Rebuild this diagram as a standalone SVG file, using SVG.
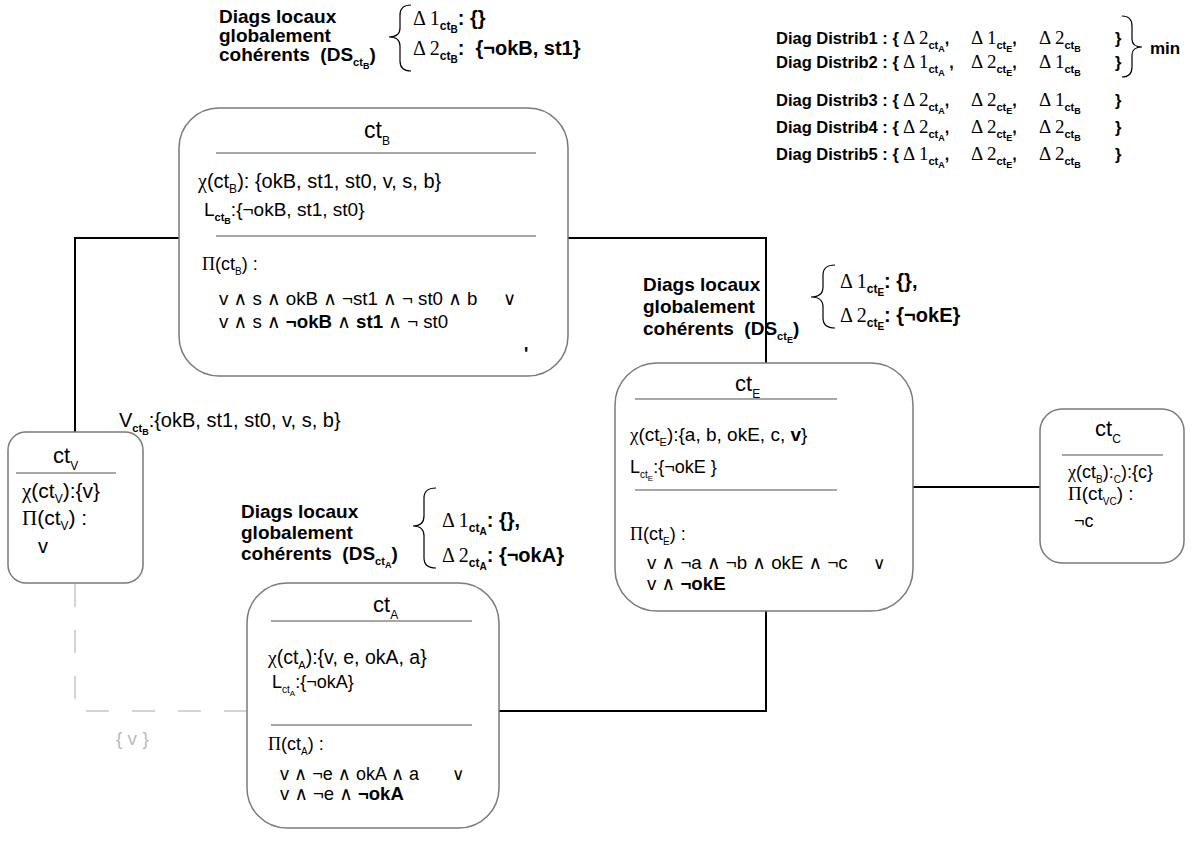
<svg xmlns="http://www.w3.org/2000/svg" width="1194" height="843" viewBox="0 0 1194 843">
<style>
.t{font-family:"Liberation Sans","DejaVu Sans",Arial,sans-serif;fill:#000}
.s{font-family:"Liberation Serif","DejaVu Serif","Times New Roman",serif;fill:#000}
.b{font-weight:bold}
.box{fill:#fff;stroke:#7a7a7a;stroke-width:1.5}
.rule{stroke:#8a8a8a;stroke-width:1.5}
.conn{stroke:#000;stroke-width:2;fill:none}
.dash{stroke:#d4d4d4;stroke-width:2;stroke-dasharray:23 23;fill:none}
.brace{stroke:#000;stroke-width:1.2;fill:none}
</style>
<rect width="1194" height="843" fill="#fff"/>
<g id="connectors">
<path class="conn" d="M180,238 H75 V432"/>
<path class="conn" d="M568,238 H766 V364"/>
<path class="conn" d="M766,611 V711 H498"/>
<path class="conn" d="M913,487 H1040"/>
<path class="dash" d="M75,584 V711 H247"/>
<text class="t" x="116" y="745" font-size="19" style="fill:#bbb" xml:space="preserve">{ v }</text>
</g>
<g id="ctB">
<rect class="box" x="179" y="108" width="389" height="268" rx="40"/>
<text class="t" x="364" y="138" font-size="23">ct<tspan font-size="12" dy="7">B</tspan></text>
<line class="rule" x1="216" y1="153" x2="536" y2="153"/>
<text class="t" x="198" y="188" font-size="20"><tspan class="s">χ</tspan>(ct<tspan font-size="12" dy="5">B</tspan><tspan dy="-5">): {okB, st1, st0, v, s, b}</tspan></text>
<text class="t" x="204" y="216" font-size="19">L<tspan font-size="11" font-weight="bold" dy="5">ct</tspan><tspan font-size="9" font-weight="bold" dy="3">B</tspan><tspan dy="-8">:{¬okB, st1, st0}</tspan></text>
<line class="rule" x1="216" y1="236" x2="536" y2="236"/>
<text class="t" x="202" y="270" font-size="18"><tspan class="s">Π</tspan>(ct<tspan font-size="10" dy="5">B</tspan><tspan dy="-5">) :</tspan></text>
<text class="t" x="219" y="305" font-size="18.7">v ∧ s ∧ okB ∧ ¬st1 ∧ ¬ st0 ∧ b</text>
<text class="t" x="503" y="305" font-size="18">∨</text>
<text class="t" x="219" y="328" font-size="18.7">v ∧ s ∧ <tspan class="b">¬okB</tspan> ∧ <tspan class="b">st1</tspan> ∧ ¬ st0</text>
<text class="t b" x="524" y="360" font-size="18">'</text>
</g>
<g id="ctV">
<rect class="box" x="8" y="432" width="135" height="151" rx="18"/>
<text class="t" x="53" y="463" font-size="22">ct<tspan font-size="12" dy="7">V</tspan></text>
<line class="rule" x1="16" y1="473" x2="116" y2="473"/>
<text class="t" x="22" y="498" font-size="21"><tspan class="s">χ</tspan>(ct<tspan font-size="12" dy="5">V</tspan><tspan dy="-5">):{v}</tspan></text>
<text class="t" x="22" y="525" font-size="21"><tspan class="s">Π</tspan>(ct<tspan font-size="12" dy="5">V</tspan><tspan dy="-5">) :</tspan></text>
<text class="t" x="38" y="553" font-size="20">v</text>
</g>
<g id="labelV">
<text class="t" x="119" y="427" font-size="20">V<tspan font-size="11" font-weight="bold" dy="5">ct</tspan><tspan font-size="9" font-weight="bold" dy="3">B</tspan><tspan dy="-8">:{okB, st1, st0, v, s, b}</tspan></text>
</g>
<g id="ctA">
<rect class="box" x="247" y="583" width="252" height="245" rx="40"/>
<text class="t" x="373" y="612" font-size="22">ct<tspan font-size="12" dy="7">A</tspan></text>
<line class="rule" x1="271" y1="621" x2="472" y2="621"/>
<text class="t" x="268" y="664" font-size="19.5"><tspan class="s">χ</tspan>(ct<tspan font-size="11" dy="5">A</tspan><tspan dy="-5">):{v, e, okA, a}</tspan></text>
<text class="t" x="272" y="688" font-size="18">L<tspan font-size="10" dy="5">ct</tspan><tspan font-size="8" dy="3">A</tspan><tspan dy="-8">:{¬okA}</tspan></text>
<line class="rule" x1="271" y1="725" x2="472" y2="725"/>
<text class="t" x="268" y="750" font-size="18"><tspan class="s">Π</tspan>(ct<tspan font-size="10" dy="5">A</tspan><tspan dy="-5">) :</tspan></text>
<text class="t" x="280" y="780" font-size="18">v ∧ ¬e ∧ okA ∧ a</text>
<text class="t" x="452" y="780" font-size="17">∨</text>
<text class="t" x="280" y="800" font-size="18.5">v ∧ ¬e ∧ <tspan class="b">¬okA</tspan></text>
</g>
<g id="ctE">
<rect class="box" x="615" y="363" width="298" height="248" rx="42"/>
<text class="t" x="735" y="391" font-size="22">ct<tspan font-size="12" dy="7">E</tspan></text>
<line class="rule" x1="635" y1="399" x2="837" y2="399"/>
<text class="t" x="630" y="441" font-size="19"><tspan class="s">χ</tspan>(ct<tspan font-size="11" dy="5">E</tspan><tspan dy="-5">):{a, b, okE, c, </tspan><tspan class="b">v</tspan>}</text>
<text class="t" x="630" y="473" font-size="18">L<tspan font-size="10" dy="5">ct</tspan><tspan font-size="8" dy="3">E</tspan><tspan dy="-8">:{¬okE }</tspan></text>
<line class="rule" x1="635" y1="490" x2="837" y2="490"/>
<text class="t" x="630" y="540" font-size="18"><tspan class="s">Π</tspan>(ct<tspan font-size="10" dy="5">E</tspan><tspan dy="-5">) :</tspan></text>
<text class="t" x="647" y="569" font-size="18.7">v ∧ ¬a ∧ ¬b ∧ okE ∧ ¬c</text>
<text class="t" x="873" y="569" font-size="17">∨</text>
<text class="t" x="647" y="590" font-size="18.7">v ∧ <tspan class="b">¬okE</tspan></text>
</g>
<g id="ctC">
<rect class="box" x="1040" y="409" width="144" height="154" rx="22"/>
<text class="t" x="1095" y="436" font-size="22">ct<tspan font-size="12" dy="7">C</tspan></text>
<line class="rule" x1="1062" y1="455" x2="1163" y2="455"/>
<text class="t" x="1068" y="478" font-size="18"><tspan class="s">χ</tspan>(ct<tspan font-size="10" dy="5">B</tspan><tspan dy="-5">):</tspan><tspan font-size="10" dy="5">C</tspan><tspan dy="-5">):{c}</tspan></text>
<text class="t" x="1068" y="500" font-size="19"><tspan class="s">Π</tspan>(ct<tspan font-size="10" dy="5">VC</tspan><tspan dy="-5">) :</tspan></text>
<text class="t" x="1074" y="527" font-size="18">¬c</text>
</g>
<g id="dsB">
<text class="t b" x="219" y="23" font-size="19">Diags locaux</text>
<text class="t b" x="219" y="42" font-size="19">globalement</text>
<text class="t b" x="219" y="61" font-size="19" xml:space="preserve">cohérents  (DS<tspan font-size="11" dy="5">ct</tspan><tspan font-size="9" dy="3">B</tspan><tspan dy="-8">)</tspan></text>
<path class="brace" d="M411,5 Q400,5 400,15 V28 Q400,37 389,37 Q400,37 400,46 V61 Q400,71 411,71"/>
<text class="s" x="413" y="25" font-size="20">Δ 1<tspan class="t b" font-size="12" dy="5">ct</tspan><tspan class="t b" font-size="10" dy="3">B</tspan><tspan class="t b" dy="-8">: {}</tspan></text>
<text class="s" x="413" y="55" font-size="20" xml:space="preserve">Δ 2<tspan class="t b" font-size="12" dy="5">ct</tspan><tspan class="t b" font-size="10" dy="3">B</tspan><tspan class="t b" dy="-8">:  {¬okB, st1}</tspan></text>
</g>
<g id="dsE">
<text class="t b" x="643" y="291" font-size="19">Diags locaux</text>
<text class="t b" x="643" y="313" font-size="19">globalement</text>
<text class="t b" x="643" y="335" font-size="19" xml:space="preserve">cohérents  (DS<tspan font-size="11" dy="5">ct</tspan><tspan font-size="9" dy="3">E</tspan><tspan dy="-8">)</tspan></text>
<path class="brace" d="M835,265 Q823,265 823,275 V287 Q823,297 811,297 Q823,297 823,307 V318 Q823,328 835,328"/>
<text class="s" x="840" y="288" font-size="20">Δ 1<tspan class="t b" font-size="12" dy="5">ct</tspan><tspan class="t b" font-size="10" dy="3">E</tspan><tspan class="t b" dy="-8">: {},</tspan></text>
<text class="s" x="840" y="322" font-size="20">Δ 2<tspan class="t b" font-size="12" dy="5">ct</tspan><tspan class="t b" font-size="10" dy="3">E</tspan><tspan class="t b" dy="-8">: {¬okE}</tspan></text>
</g>
<g id="dsA">
<text class="t b" x="241" y="518" font-size="19">Diags locaux</text>
<text class="t b" x="241" y="539" font-size="19">globalement</text>
<text class="t b" x="241" y="560" font-size="19" xml:space="preserve">cohérents  (DS<tspan font-size="11" dy="5">ct</tspan><tspan font-size="9" dy="3">A</tspan><tspan dy="-8">)</tspan></text>
<path class="brace" d="M436,488 Q424,488 424,498 V516 Q424,526 413,526 Q424,526 424,536 V558 Q424,568 436,568"/>
<text class="s" x="442" y="527" font-size="20">Δ 1<tspan class="t b" font-size="12" dy="5">ct</tspan><tspan class="t b" font-size="10" dy="3">A</tspan><tspan class="t b" dy="-8">: {},</tspan></text>
<text class="s" x="442" y="562" font-size="20">Δ 2<tspan class="t b" font-size="12" dy="5">ct</tspan><tspan class="t b" font-size="10" dy="3">A</tspan><tspan class="t b" dy="-8">: {¬okA}</tspan></text>
</g>
<g id="distrib">
<text class="t b" x="776" y="44" font-size="16.5">Diag Distrib1 : {</text>
<text class="s" x="903" y="44" font-size="19">Δ 2<tspan class="t b" font-size="11" dy="5">ct</tspan><tspan class="t b" font-size="9" dy="3">A</tspan><tspan class="t b" font-size="16" dy="-8">,</tspan></text>
<text class="s" x="971" y="44" font-size="19">Δ 1<tspan class="t b" font-size="11" dy="5">ct</tspan><tspan class="t b" font-size="9" dy="3">E</tspan><tspan class="t b" font-size="16" dy="-8">,</tspan></text>
<text class="s" x="1039" y="44" font-size="19">Δ 2<tspan class="t b" font-size="11" dy="5">ct</tspan><tspan class="t b" font-size="9" dy="3">B</tspan></text>
<text class="t b" x="1115" y="44" font-size="16.5">}</text>
<text class="t b" x="776" y="68" font-size="16.5">Diag Distrib2 : {</text>
<text class="s" x="903" y="68" font-size="19">Δ 1<tspan class="t b" font-size="11" dy="5">ct</tspan><tspan class="t b" font-size="9" dy="3">A</tspan><tspan class="t b" font-size="16" dy="-8"> ,</tspan></text>
<text class="s" x="971" y="68" font-size="19">Δ 2<tspan class="t b" font-size="11" dy="5">ct</tspan><tspan class="t b" font-size="9" dy="3">E</tspan><tspan class="t b" font-size="16" dy="-8">,</tspan></text>
<text class="s" x="1039" y="68" font-size="19">Δ 1<tspan class="t b" font-size="11" dy="5">ct</tspan><tspan class="t b" font-size="9" dy="3">B</tspan></text>
<text class="t b" x="1115" y="68" font-size="16.5">}</text>
<path class="brace" d="M1122,16 Q1132,16 1132,26 V39 Q1132,47 1142,47 Q1132,47 1132,55 V67 Q1132,77 1122,77"/>
<text class="t b" x="1150" y="54" font-size="17">min</text>
<text class="t b" x="776" y="106" font-size="16.5">Diag Distrib3 : {</text>
<text class="s" x="903" y="106" font-size="19">Δ 2<tspan class="t b" font-size="11" dy="5">ct</tspan><tspan class="t b" font-size="9" dy="3">A</tspan><tspan class="t b" font-size="16" dy="-8">,</tspan></text>
<text class="s" x="971" y="106" font-size="19">Δ 2<tspan class="t b" font-size="11" dy="5">ct</tspan><tspan class="t b" font-size="9" dy="3">E</tspan><tspan class="t b" font-size="16" dy="-8">,</tspan></text>
<text class="s" x="1039" y="106" font-size="19">Δ 1<tspan class="t b" font-size="11" dy="5">ct</tspan><tspan class="t b" font-size="9" dy="3">B</tspan></text>
<text class="t b" x="1115" y="106" font-size="16.5">}</text>
<text class="t b" x="776" y="133" font-size="16.5">Diag Distrib4 : {</text>
<text class="s" x="903" y="133" font-size="19">Δ 2<tspan class="t b" font-size="11" dy="5">ct</tspan><tspan class="t b" font-size="9" dy="3">A</tspan><tspan class="t b" font-size="16" dy="-8">,</tspan></text>
<text class="s" x="971" y="133" font-size="19">Δ 2<tspan class="t b" font-size="11" dy="5">ct</tspan><tspan class="t b" font-size="9" dy="3">E</tspan><tspan class="t b" font-size="16" dy="-8">,</tspan></text>
<text class="s" x="1039" y="133" font-size="19">Δ 2<tspan class="t b" font-size="11" dy="5">ct</tspan><tspan class="t b" font-size="9" dy="3">B</tspan></text>
<text class="t b" x="1115" y="133" font-size="16.5">}</text>
<text class="t b" x="776" y="160" font-size="16.5">Diag Distrib5 : {</text>
<text class="s" x="903" y="160" font-size="19">Δ 1<tspan class="t b" font-size="11" dy="5">ct</tspan><tspan class="t b" font-size="9" dy="3">A</tspan><tspan class="t b" font-size="16" dy="-8">,</tspan></text>
<text class="s" x="971" y="160" font-size="19">Δ 2<tspan class="t b" font-size="11" dy="5">ct</tspan><tspan class="t b" font-size="9" dy="3">E</tspan><tspan class="t b" font-size="16" dy="-8">,</tspan></text>
<text class="s" x="1039" y="160" font-size="19">Δ 2<tspan class="t b" font-size="11" dy="5">ct</tspan><tspan class="t b" font-size="9" dy="3">B</tspan></text>
<text class="t b" x="1115" y="160" font-size="16.5">}</text>
</g>
</svg>
